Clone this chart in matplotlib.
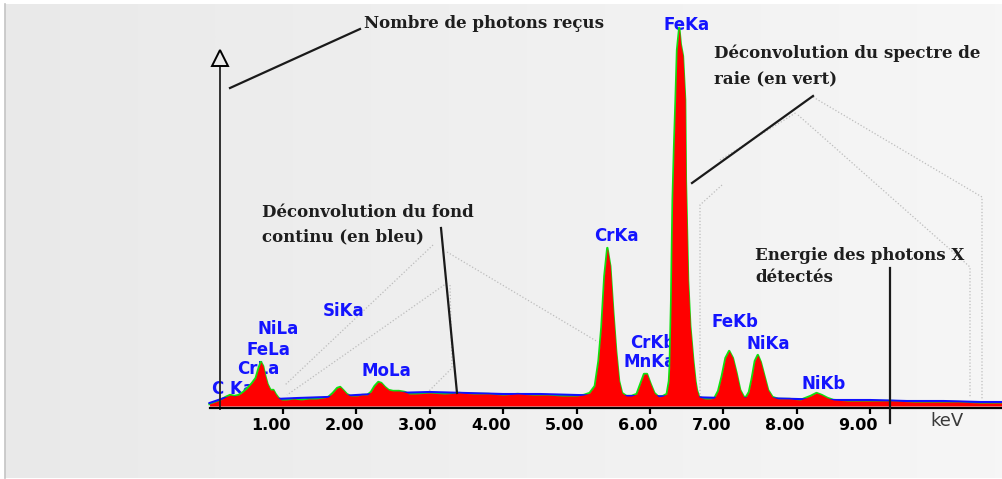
import matplotlib
matplotlib.use("Agg")
import numpy as np
import matplotlib.pyplot as plt
from matplotlib.transforms import ScaledTranslation

# ---------------- data ----------------
energy_keV = [0.00, 0.08, 0.15, 0.22, 0.28, 0.34, 0.40, 0.46, 0.52, 0.58, 0.63, 0.67,
              0.70, 0.73, 0.76, 0.79, 0.83, 0.87, 0.90, 0.94, 0.98, 1.05, 1.15, 1.25,
              1.35, 1.45, 1.55, 1.62, 1.68, 1.74, 1.78, 1.82, 1.87, 1.92, 2.00, 2.08,
              2.15, 2.20, 2.25, 2.30, 2.34, 2.39, 2.44, 2.50, 2.58, 2.66, 2.72, 2.80,
              3.00, 3.20, 3.40, 3.60, 3.80, 4.00, 4.20, 4.40, 4.60, 4.80, 5.00, 5.10,
              5.18, 5.25, 5.30, 5.34, 5.38, 5.42, 5.46, 5.50, 5.54, 5.58, 5.62, 5.68,
              5.75, 5.82, 5.87, 5.92, 5.96, 6.01, 6.06, 6.12, 6.18, 6.23, 6.26, 6.27,
              6.29, 6.31, 6.33, 6.35, 6.37, 6.40, 6.42, 6.45, 6.48, 6.49, 6.52, 6.55,
              6.59, 6.62, 6.64, 6.67, 6.75, 6.82, 6.88, 6.93, 6.98, 7.03, 7.08, 7.13,
              7.18, 7.23, 7.28, 7.31, 7.35, 7.39, 7.43, 7.47, 7.51, 7.56, 7.61, 7.67,
              7.75, 7.90, 8.05, 8.12, 8.19, 8.27, 8.34, 8.42, 8.50, 8.70, 9.00, 9.30,
              9.60, 9.90, 10.20, 10.50, 10.80]
counts = [2, 4, 6, 9, 11, 10, 11, 14, 18, 23, 28, 38,
          44, 40, 30, 22, 16, 16, 12, 8, 6, 6, 7, 6,
          7, 7, 8, 9, 13, 18, 19, 16, 12, 10, 10, 11,
          11, 14, 20, 24, 23, 19, 16, 15, 15, 14, 12, 12,
          13, 12, 13, 12, 12, 11, 12, 11, 11, 10, 10, 11,
          13, 20, 45, 79, 130, 158, 140, 95, 55, 25, 13, 10,
          10, 12, 22, 32, 32, 22, 13, 9, 10, 12, 25, 39,
          106, 206, 260, 306, 356, 378, 362, 350, 306, 226, 126, 80,
          46, 25, 16, 9, 7, 7, 8, 15, 30, 48, 55, 48,
          33, 16, 9, 9, 14, 28, 45, 51, 44, 30, 16, 9,
          7, 7, 6, 8, 10, 13, 11, 8, 6, 5, 5, 5,
          4, 4, 4, 3, 3]

background_keV = [0.0, 0.2, 0.4, 0.6, 0.9, 1.2, 1.6, 2.0, 2.5, 3.0, 3.5, 4.0, 4.5,
                  5.0, 5.5, 6.0, 6.5, 7.0, 7.5, 8.0, 8.5, 9.0, 9.5, 10.0, 10.5, 10.85]
background_counts = [3, 8, 9, 8, 7, 8, 9, 11, 13, 14, 13, 12, 12,
                     11, 10, 10, 9, 8, 8, 7, 6, 6, 5, 5, 4, 4]

tick_values = [1, 2, 3, 4, 5, 6, 7, 8, 9]
tick_labels = ["1.00", "2.00", "3.00", "4.00", "5.00", "6.00", "7.00", "8.00", "9.00"]

line_names = ["C Ka", "CrLa", "FeLa", "NiLa", "SiKa", "MoLa", "CrKa",
              "CrKb", "MnKa", "FeKa", "FeKb", "NiKa", "NiKb"]

# ---------------- layout (pixel positions of the picture) ----------------
W, H = 1003, 479
X0, SX = 209.5, 73.4     # pixel of 0 keV, pixels per keV
Y0 = 406                 # pixel row of zero counts

label_px = {"C Ka": (233, 389), "CrLa": (258, 369), "FeLa": (268, 350),
            "NiLa": (278, 329), "SiKa": (344, 311), "MoLa": (386, 371),
            "CrKa": (616, 236), "CrKb": (653, 343), "MnKa": (650, 362),
            "FeKa": (687, 25), "FeKb": (735, 322), "NiKa": (768, 344),
            "NiKb": (824, 384)}


def P(px, py):
    return (px - X0) / SX, Y0 - py


fig = plt.figure(figsize=(W / 100, H / 100), dpi=100)

# background panel with soft gradient
bgax = fig.add_axes([0, 0, 1, 1])
bgax.set_xlim(0, W)
bgax.set_ylim(H, 0)
bgax.axis("off")
grad = np.linspace(0.915, 0.965, 256).reshape(1, -1)
bgax.imshow(np.dstack([grad, grad, grad]), extent=(5, W, 478, 4), aspect="auto",
            interpolation="bilinear")
bgax.plot([5.5, 5.5], [4, 478], color="#c4c4c4", lw=1.2)

ax = fig.add_axes([0, 0, 1, 1])
ax.patch.set_alpha(0)
ax.set_xlim(P(0, 0)[0], P(W, 0)[0])
ax.set_ylim(Y0 - H, Y0)

# spectrum layers
ax.plot(energy_keV, counts, color="#10e010", lw=1.7, zorder=2, solid_joinstyle="round")
ax.plot(background_keV, background_counts, color="#1010ff", lw=1.5, zorder=2.5)
ax.fill_between(energy_keV, 0, counts, color="#ff0000", lw=0, zorder=3)

# axes look
for s in ["left", "right", "top"]:
    ax.spines[s].set_visible(False)
ax.spines["bottom"].set_position(("data", -2))
ax.spines["bottom"].set_bounds(P(210, 0)[0], P(W, 0)[0])
ax.spines["bottom"].set_linewidth(1.6)
ax.spines["bottom"].set_zorder(4)
ax.set_yticks([])
ax.set_xticks(tick_values, tick_labels)
ax.tick_params(axis="x", direction="out", length=4, width=1.6, pad=3,
               labelsize=11.5, colors="black")
for lab in ax.get_xticklabels():
    lab.set_fontweight("bold")
    lab.set_transform(lab.get_transform() + ScaledTranslation(-0.12, 0, fig.dpi_scale_trans))

# vertical axis with open arrow head
ax_e = P(220, 0)[0]
ax.plot([ax_e, ax_e], [P(0, 409)[1], P(0, 64)[1]], color="#222222", lw=1.3, zorder=4)
ax.plot([ax_e], [P(0, 57.5)[1]], marker="^", ms=11.5, mfc="#ebebeb", mec="black",
        mew=1.4, zorder=5)

ax.text(*P(947, 421), "keV", ha="center", va="center", fontsize=13, color="#3a3a3a")

# line labels
for name in line_names:
    ax.text(*P(*label_px[name]), name, ha="center", va="center", fontsize=12,
            fontweight="bold", color="#1414ff", family="DejaVu Sans", zorder=1)

# dotted callout shapes
dot = dict(color="#bcbcbc", lw=0.9, ls=(0, (1, 1.6)), zorder=0.5)
for pts in [
    [(433, 245), (285, 385)],
    [(447, 283), (287, 395)],
    [(447, 252), (598, 342)],
    [(450, 285), (452, 368), (425, 395)],
    [(720, 160), (797, 112)],
    [(813, 97), (982, 197), (982, 400)],
    [(798, 115), (970, 267), (970, 398)],
    [(722, 185), (700, 205), (700, 395)],
]:
    xs, ys = zip(*[P(a, b) for a, b in pts])
    ax.plot(xs, ys, **dot)

# annotation texts and leader lines
ann = dict(family="DejaVu Serif", fontweight="bold", fontsize=12, color="#1e1e1e",
           ha="left", va="baseline", zorder=6)
ax.text(*P(364, 28), "Nombre de photons reçus", **ann)
ax.text(*P(714, 58), "Déconvolution du spectre de", **ann)
ax.text(*P(714, 83), "raie (en vert)", **ann)
ax.text(*P(262, 217), "Déconvolution du fond", **ann)
ax.text(*P(262, 241), "continu (en bleu)", **ann)
ax.text(*P(755, 260), "Energie des photons X", **ann)
ax.text(*P(755, 282), "détectés", **ann)

lead = dict(color="#1a1a1a", lw=1.6, zorder=6)
for (a, b), (c, d) in [((230, 88), (360, 29)), ((692, 183), (813, 96)),
                       ((441, 228), (457, 393)), ((890, 268), (890, 423))]:
    x1, y1 = P(a, b)
    x2, y2 = P(c, d)
    ax.plot([x1, x2], [y1, y2], **lead)

fig.savefig("out.png", dpi=100)
